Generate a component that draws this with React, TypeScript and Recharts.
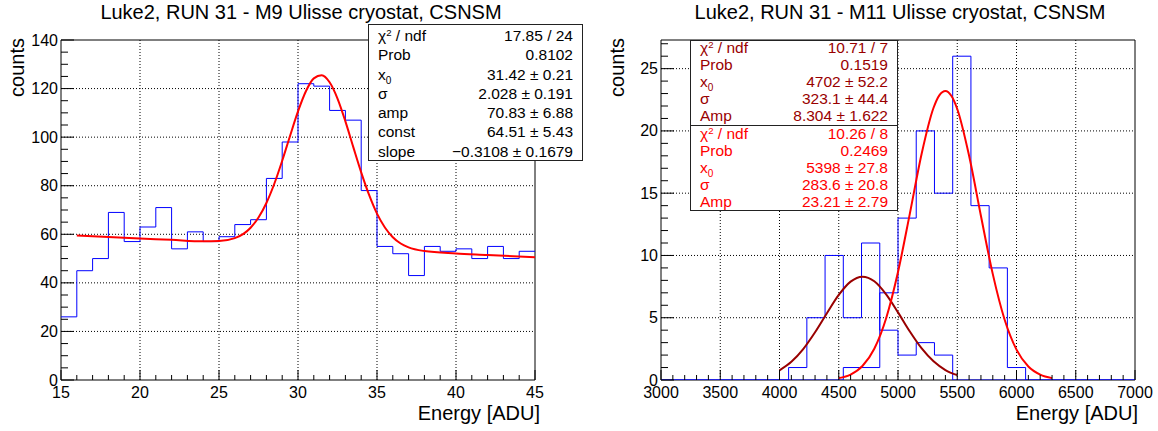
import React from 'react'
import { LineChart, Line, XAxis, YAxis, ReferenceLine, ReferenceArea } from 'recharts'

// ---- M9 : 30 bins from 15 to 45 ADU ----
const m9Lo = 15
const m9Hi = 45
const m9Counts = [26, 45, 50, 69, 57, 63, 71, 54, 61, 57, 59, 64, 66, 83, 98, 122, 121, 111, 107, 78, 55, 52, 43, 55, 53, 54, 50, 55, 50, 53]
const m9FitX = [16, 18, 20, 22, 24, 25, 26, 27, 27.5, 28, 28.5, 29, 29.5, 30, 30.5, 31, 31.5, 32, 32.5, 33, 33.5, 34, 34.5, 35, 35.5, 36, 36.5, 37, 38, 40, 42, 45]
const m9FitY = [59.5, 58.9, 58.3, 57.7, 57.1, 57.2, 58.4, 62.7, 66.9, 72.9, 80.8, 90.3, 100.6, 110.6, 118.9, 124.2, 125.5, 122.6, 115.9, 106.5, 95.9, 85.5, 76.2, 68.5, 62.8, 58.8, 56.2, 54.6, 53.1, 52.1, 51.5, 50.5]
const m9XMajor = [15, 20, 25, 30, 35, 40, 45]
const m9YMajor = [0, 20, 40, 60, 80, 100, 120, 140]
const m9StatLabels = ['chi2', 'Prob', 'x0', 'σ', 'amp', 'const', 'slope']
const m9StatValues = ['17.85 / 24', '0.8102', '31.42 ± 0.21', '2.028 ± 0.191', '70.83 ± 6.88', '64.51 ± 5.43', '−0.3108 ± 0.1679']

// ---- M11 : 26 bins from 3000 to 7000 ADU ----
const m11Lo = 3000
const m11Hi = 7000
const m11LowCounts = [0, 0, 0, 0, 0, 0, 0, 1, 5, 10, 5, 11, 4, 2, 3, 2, 0, 0, 0, 0, 0, 0, 0, 0, 0, 0]
const m11HighCounts = [0, 0, 0, 0, 0, 0, 0, 0, 0, 0, 1, 1, 7, 13, 20, 15, 26, 14, 9, 1, 0, 0, 0, 0, 0, 0]
const m11LowFitX = [4000, 4100, 4200, 4300, 4400, 4500, 4600, 4700, 4800, 4900, 5000, 5100, 5200, 5300, 5400, 5500]
const m11LowFitY = [0.78, 1.46, 2.48, 3.83, 5.36, 6.83, 7.9, 8.3, 7.93, 6.88, 5.43, 3.89, 2.53, 1.5, 0.8, 0.39]
const m11HighFitX = [4500, 4600, 4700, 4800, 4900, 5000, 5100, 5200, 5300, 5350, 5400, 5450, 5500, 5600, 5700, 5800, 5900, 6000, 6100, 6200, 6300]
const m11HighFitY = [0.15, 0.44, 1.12, 2.51, 4.96, 8.67, 13.36, 18.19, 21.86, 22.88, 23.21, 22.82, 21.76, 18.0, 13.17, 8.5, 4.84, 2.44, 1.08, 0.43, 0.15]
const m11XMajor = [3000, 3500, 4000, 4500, 5000, 5500, 6000, 6500, 7000]
const m11YMajor = [0, 5, 10, 15, 20, 25]
const m11StatLabels = ['chi2', 'Prob', 'x0', 'σ', 'Amp']
const m11LowStatValues = ['10.71 / 7', '0.1519', '4702 ± 52.2', '323.1 ± 44.4', '8.304 ± 1.622']
const m11HighStatValues = ['10.26 / 8', '0.2469', '5398 ± 27.8', '283.6 ± 20.8', '23.21 ± 2.79']

const FONT = '"Liberation Sans", Arial, Helvetica, sans-serif'
const HIST_BLUE = '#0000ff'
const FIT_RED = '#ff0000'
const FIT_DARK = '#990000'
const TICK_FONT = 16

function range(lo: number, hi: number, step: number) {
  const out: number[] = []
  for (let v = lo; v <= hi + 1e-9; v += step) out.push(Math.round(v * 1000) / 1000)
  return out
}

function stepData(counts: number[], lo: number, hi: number) {
  const w = (hi - lo) / counts.length
  const pts = counts.map((c, i) => ({ x: lo + i * w, y: c }))
  pts.push({ x: hi, y: counts[counts.length - 1] })
  return pts
}

function curve(xs: number[], ys: number[]) {
  return xs.map((x, i) => ({ x, y: ys[i] }))
}

function makeYTick(majors: number[]) {
  return (props: any) => {
    const { x, y, payload } = props
    const major = majors.includes(payload.value)
    return (
      <g>
        <line x1={x} y1={y} x2={x + (major ? 13 : 7)} y2={y} stroke="#000" strokeWidth={1} />
        {major && (
          <text x={x - 3} y={y + 5.5} textAnchor="end" fontSize={TICK_FONT} fontFamily={FONT} fill="#000">
            {payload.value}
          </text>
        )}
      </g>
    )
  }
}

function makeXTick(majors: number[]) {
  return (props: any) => {
    const { x, y, payload } = props
    const major = majors.includes(payload.value)
    return (
      <g>
        <line x1={x} y1={y} x2={x} y2={y - (major ? 10 : 5)} stroke="#000" strokeWidth={1} />
        {major && (
          <text x={x} y={y + 18} textAnchor="middle" fontSize={TICK_FONT} fontFamily={FONT} fill="#000">
            {payload.value}
          </text>
        )}
      </g>
    )
  }
}

function renderLabel(l: string) {
  if (l === 'chi2') return <>χ<sup style={{ fontSize: '0.62em', verticalAlign: '0.55em', lineHeight: 0 }}>2</sup> / ndf</>
  if (l === 'x0') return <>x<sub style={{ fontSize: '0.65em', verticalAlign: '-0.4em', lineHeight: 0 }}>0</sub></>
  return l
}

function StatBox({ labels, values, color, style, rowH, shift }: any) {
  return (
    <div style={{ position: 'absolute', background: '#fff', border: '1px solid #222', boxSizing: 'border-box', fontSize: 15.5, fontFamily: FONT, overflow: 'hidden', ...style }}>
      <div style={{ position: 'relative', top: shift, padding: '0 9px 0 9px' }}>
        {labels.map((l: string, i: number) => (
          <div key={i} style={{ display: 'flex', justifyContent: 'space-between', height: rowH, lineHeight: rowH + 'px', color, whiteSpace: 'nowrap' }}>
            <span>{renderLabel(l)}</span>
            <span>{values[i]}</span>
          </div>
        ))}
      </div>
    </div>
  )
}

interface PanelProps {
  left: number
  width: number
  yAxisWidth: number
  rightMargin: number
  xDomain: number[]
  yDomain: number[]
  xTicks: number[]
  xMajor: number[]
  yTicks: number[]
  yMajor: number[]
  hists: { x: number; y: number }[][]
  fits: { data: { x: number; y: number }[]; color: string }[]
}

function Panel(p: PanelProps) {
  const xGrid = p.xMajor.filter(v => v > p.xDomain[0] && v < p.xDomain[1])
  const yGrid = p.yMajor.filter(v => v > p.yDomain[0] && v < p.yDomain[1])
  return (
    <div style={{ position: 'absolute', left: p.left, top: 0 }}>
      <LineChart width={p.width} height={431} margin={{ top: 40, right: p.rightMargin, left: 0, bottom: 0 }}>
        <XAxis
          type="number"
          dataKey="x"
          domain={p.xDomain}
          allowDataOverflow
          ticks={p.xTicks}
          interval={0}
          tick={makeXTick(p.xMajor)}
          tickSize={0}
          tickMargin={0}
          tickLine={false}
          axisLine={false}
          height={51}
        />
        <YAxis
          type="number"
          dataKey="y"
          domain={p.yDomain}
          allowDataOverflow
          ticks={p.yTicks}
          interval={0}
          tick={makeYTick(p.yMajor)}
          tickSize={0}
          tickMargin={0}
          tickLine={false}
          axisLine={false}
          width={p.yAxisWidth}
        />
        {xGrid.map(v => (
          <ReferenceLine key={'gx' + v} x={v} stroke="#000" strokeDasharray="1 2" strokeWidth={1} />
        ))}
        {yGrid.map(v => (
          <ReferenceLine key={'gy' + v} y={v} stroke="#000" strokeDasharray="1 2" strokeWidth={1} />
        ))}
        <ReferenceArea x1={p.xDomain[0]} x2={p.xDomain[1]} y1={p.yDomain[0]} y2={p.yDomain[1]} fill="none" stroke="#000" strokeWidth={1} ifOverflow="visible" />
        {p.hists.map((h, i) => (
          <Line key={'h' + i} data={h} dataKey="y" type="stepAfter" stroke={HIST_BLUE} strokeWidth={1} dot={false} isAnimationActive={false} />
        ))}
        {p.fits.map((f, i) => (
          <Line key={'f' + i} data={f.data} dataKey="y" type="monotone" stroke={f.color} strokeWidth={2} dot={false} isAnimationActive={false} />
        ))}
      </LineChart>
    </div>
  )
}

const titleStyle: React.CSSProperties = { position: 'absolute', top: 2, width: 600, textAlign: 'center', fontSize: 20, lineHeight: '20px', fontFamily: FONT, color: '#000', whiteSpace: 'nowrap' }
const xTitleStyle: React.CSSProperties = { position: 'absolute', top: 403, fontSize: 20, lineHeight: '20px', fontFamily: FONT, color: '#000', whiteSpace: 'nowrap' }
const yTitleStyle: React.CSSProperties = { position: 'absolute', top: 77, width: 100, height: 22, textAlign: 'right', fontSize: 20, lineHeight: '22px', fontFamily: FONT, color: '#000', transform: 'rotate(-90deg)', whiteSpace: 'nowrap' }

export default function App() {
  return (
    <div style={{ position: 'absolute', left: 0, top: 0, width: 1158, height: 431, background: '#fff', overflow: 'hidden', fontFamily: FONT }}>
      <Panel
        left={0}
        width={580}
        yAxisWidth={61}
        rightMargin={45}
        xDomain={[m9Lo, m9Hi]}
        yDomain={[0, 140]}
        xTicks={range(m9Lo, m9Hi, 1)}
        xMajor={m9XMajor}
        yTicks={range(0, 140, 5)}
        yMajor={m9YMajor}
        hists={[stepData(m9Counts, m9Lo, m9Hi)]}
        fits={[{ data: curve(m9FitX, m9FitY), color: FIT_RED }]}
      />
      <Panel
        left={580}
        width={578}
        yAxisWidth={81}
        rightMargin={23}
        xDomain={[m11Lo, m11Hi]}
        yDomain={[0, 27.3]}
        xTicks={range(m11Lo, m11Hi, 100)}
        xMajor={m11XMajor}
        yTicks={range(0, 27, 1)}
        yMajor={m11YMajor}
        hists={[stepData(m11LowCounts, m11Lo, m11Hi), stepData(m11HighCounts, m11Lo, m11Hi)]}
        fits={[
          { data: curve(m11LowFitX, m11LowFitY), color: FIT_DARK },
          { data: curve(m11HighFitX, m11HighFitY), color: FIT_RED },
        ]}
      />

      <div style={{ ...titleStyle, left: 301 - 300 }}>Luke2, RUN 31 - M9 Ulisse cryostat, CSNSM</div>
      <div style={{ ...titleStyle, left: 900 - 300 }}>Luke2, RUN 31 - M11 Ulisse cryostat, CSNSM</div>

      <div style={{ ...xTitleStyle, right: 1158 - 540 }}>Energy [ADU]</div>
      <div style={{ ...xTitleStyle, right: 1158 - 1138 }}>Energy [ADU]</div>

      <div style={{ ...yTitleStyle, left: 17 - 50 }}>counts</div>
      <div style={{ ...yTitleStyle, left: 617 - 50 }}>counts</div>

      <StatBox labels={m9StatLabels} values={m9StatValues} color="#000" rowH={19.3} shift={1} style={{ left: 368, top: 24, width: 215, height: 137 }} />
      <StatBox labels={m11StatLabels} values={m11LowStatValues} color={FIT_DARK} rowH={17} shift={-2} style={{ left: 690, top: 40, width: 208, height: 86 }} />
      <StatBox labels={m11StatLabels} values={m11HighStatValues} color={FIT_RED} rowH={17} shift={-1} style={{ left: 690, top: 125, width: 208, height: 86 }} />
    </div>
  )
}
